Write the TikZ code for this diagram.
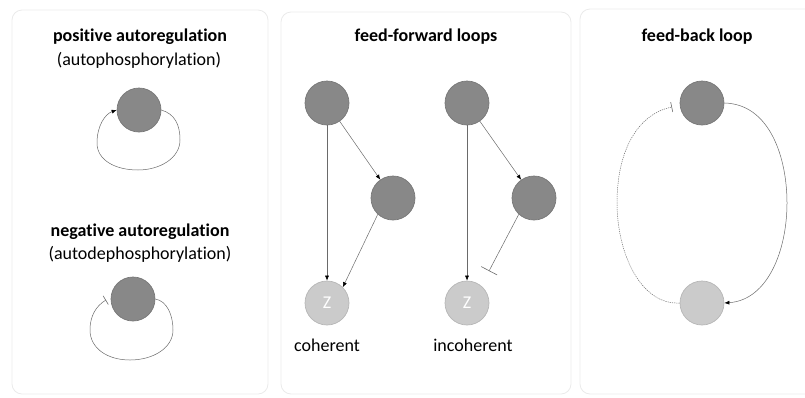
\documentclass[tikz,border=0pt]{standalone}
\usepackage{fontspec}
\setmainfont{Carlito}[Ligatures=CommonOff]
\usetikzlibrary{arrows.meta}
\definecolor{panelline}{HTML}{EAEAEA}
\definecolor{ndark}{HTML}{888888}
\definecolor{ndarkedge}{HTML}{777777}
\definecolor{nlight}{HTML}{CBCBCB}
\definecolor{nlightedge}{HTML}{B6B6B6}
\definecolor{wire}{HTML}{6A6A6A}
\tikzset{
  panel/.style={draw=panelline, line width=0.8pt, rounded corners=10pt},
  title/.style={font=\fontsize{18}{21}\selectfont\bfseries, anchor=center},
  subtitle/.style={font=\fontsize{18}{21}\selectfont, anchor=center},
  caption/.style={font=\fontsize{18}{21}\selectfont, anchor=center},
  gene/.style={circle, minimum size=44pt, inner sep=0pt, fill=ndark, draw=ndarkedge, line width=0.7pt},
  target/.style={circle, minimum size=44pt, inner sep=0pt, fill=nlight, draw=nlightedge, line width=0.7pt,
    text=white, font=\fontsize{18}{20}\selectfont},
  act/.style={draw=wire, line width=0.5pt, -{Latex[length=5pt,width=4pt,black]}},
  rep/.style={draw=wire, line width=0.5pt, -{Bar[width=10pt,line width=0.6pt]}},
  repwide/.style={draw=wire, line width=0.5pt, -{Bar[width=18pt,line width=0.6pt]}},
  dotted line/.style={dash pattern=on 1.2pt off 1pt},
}
\begin{document}
\begin{tikzpicture}[x=1pt, y=-1pt]
\useasboundingbox (0,0) rectangle (805,397);

% panels
\draw[panel] (12,10) rectangle (268,394);
\draw[panel] (281,12) rectangle (571,394);
\draw[panel] (580,9) rectangle (820,394);

% autoregulation
\node[title] (tpos) at (140,37) {positive autoregulation};
\node[subtitle] (spos) at (139,60) {(autophosphorylation)};
\node[gene] (p) at (139,110) {};
\draw[act] (p.east) .. controls (175,114) and (180,125) .. (180,140)
  .. controls (180,158) and (160,170) .. (138,170)
  .. controls (115,170) and (97,160) .. (97,143)
  .. controls (97,126) and (105,114) .. (p.west);

\node[title] (tneg) at (140,232) {negative autoregulation};
\node[subtitle] (sneg) at (140,254) {(autodephosphorylation)};
\node[gene] (n) at (133,299) {};
\coordinate (nend) at (106,300);
\draw[rep] (n.east) .. controls (167,301) and (173,315) .. (173,330)
  .. controls (173,348) and (153,360) .. (130,360)
  .. controls (107,360) and (90,348) .. (90,330)
  .. controls (90,316) and (96,306) .. (nend);

% feed-forward loops
\node[title] (tff) at (426,37) {feed-forward loops};

\node[gene] (x1) at (327,103) {};
\node[gene] (y1) at (393,198) {};
\node[target] (z1) at (327,303) {Z};
\draw[act] (x1) -- (z1);
\draw[act] (x1) -- (y1);
\draw[act] (y1.227) -- (z1.45);
\node[caption] (coh) at (327,345) {coherent};

\node[gene] (x2) at (467,103) {};
\node[gene] (y2) at (534,198) {};
\node[target] (z2) at (467,303) {Z};
\coordinate (y2end) at (489,271);
\draw[act] (x2) -- (z2);
\draw[act] (x2) -- (y2);
\draw[repwide] (y2.227) -- (y2end);
\node[caption] (incoh) at (473,345) {incoherent};

% feed-back loop
\node[title] (tfb) at (697,37) {feed-back loop};
\node[gene] (f1) at (702,103) {};
\node[target] (f2) at (702,303) {};
\draw[act] (f1.east) .. controls (770,104) and (787,158) .. (787,203)
  .. controls (787,250) and (768,300) .. (f2.east);
\coordinate (fend) at (672,107);
\draw[rep, dotted line] (f2.west) .. controls (640,305) and (617,252) .. (617,203)
  .. controls (617,150) and (638,114) .. (fend);
\end{tikzpicture}
\end{document}
